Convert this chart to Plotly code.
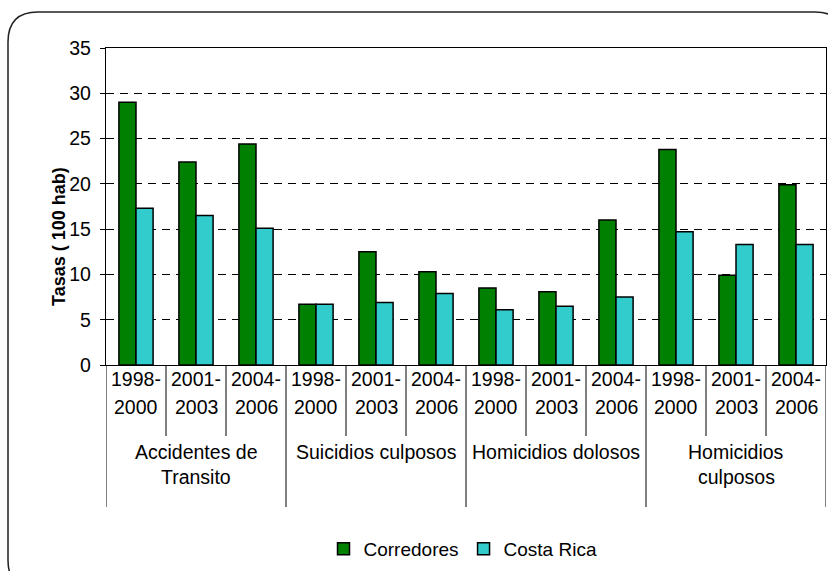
import plotly.graph_objects as go

# Data
periodos = ["1998-2000", "2001-2003", "2004-2006"]
causas = [["Accidentes de", "Transito"], ["Suicidios culposos"],
          ["Homicidios dolosos"], ["Homicidios", "culposos"]]
corredores = [29.0, 22.4, 24.4, 6.7, 12.5, 10.3, 8.5, 8.1, 16.0, 23.8, 9.9, 19.9]
costa_rica = [17.3, 16.5, 15.1, 6.7, 6.9, 7.9, 6.1, 6.5, 7.5, 14.7, 13.3, 13.3]
y_ticks = [0, 5, 10, 15, 20, 25, 30, 35]

FONT = "Liberation Sans, Arial, sans-serif"
W, H = 828, 571
L, R, T, B = 106, 2, 48, 206
PW, PH = W - L - R, H - T - B


def py(pix):
    """Pixel row -> paper y."""
    return (H - B - pix) / PH


def px(pix):
    """Pixel column -> paper x."""
    return (pix - L) / PW


n = len(corredores)
xs = list(range(n))

fig = go.Figure()
fig.add_bar(x=xs, y=corredores, name="Corredores",
            marker=dict(color="#008000", line=dict(color="black", width=1.5)))
fig.add_bar(x=xs, y=costa_rica, name="Costa Rica",
            marker=dict(color="#33CCCC", line=dict(color="black", width=1.5)))

shapes = []
annotations = []
lab_font = dict(size=19.5, family=FONT, color="black")

# inner separators and period labels
for i in range(n + 1):
    b = i - 0.5
    outer = (i % 3 == 0)
    shapes.append(dict(type="line", xref="x", yref="paper", x0=b, x1=b,
                       y0=0, y1=py(507 if outer else 436),
                       line=dict(color="black", width=1)))
for i in range(n):
    p1, p2 = periodos[i % 3].split("-")
    annotations.append(dict(x=i, y=py(392), xref="x", yref="paper",
                            text=p1 + "-", showarrow=False, font=lab_font))
    annotations.append(dict(x=i, y=py(420), xref="x", yref="paper",
                            text=p2, showarrow=False, font=lab_font))

# group labels
for g, lines in enumerate(causas):
    cx = g * 3 + 1
    for k, line in enumerate(lines):
        annotations.append(dict(x=cx, y=py(465 + 25 * k), xref="x", yref="paper",
                                text=line, showarrow=False, font=lab_font))

# axis title
annotations.append(dict(x=px(47), y=py(237), xref="paper", yref="paper",
                        text="<b>Tasas ( 100 hab)</b>", textangle=-90,
                        showarrow=False,
                        font=dict(size=18, family=FONT, color="black")))

# rounded frame around the chart
x0, x1 = px(8), px(845)
y0, y1 = py(12), py(590)
rx, ry = 30 / PW, 30 / PH
path = (f"M {x0 + rx} {y0} L {x1 - rx} {y0} Q {x1} {y0} {x1} {y0 - ry} "
        f"L {x1} {y1 + ry} Q {x1} {y1} {x1 - rx} {y1} "
        f"L {x0 + rx} {y1} Q {x0} {y1} {x0} {y1 + ry} "
        f"L {x0} {y0 - ry} Q {x0} {y0} {x0 + rx} {y0} Z")
shapes.append(dict(type="path", xref="paper", yref="paper", path=path,
                   line=dict(color="#222222", width=1.5)))

fig.update_layout(
    width=W, height=H,
    margin=dict(l=L, r=R, t=T, b=B),
    paper_bgcolor="white", plot_bgcolor="white",
    barmode="group", bargap=0.43, bargroupgap=0,
    showlegend=True,
    legend=dict(orientation="h", x=px(463), xanchor="center",
                y=py(549), yanchor="middle",
                font=dict(size=19, family=FONT, color="black"),
                itemwidth=30, tracegroupgap=0),
    shapes=shapes,
    annotations=annotations,
    font=dict(family=FONT, color="black"),
)
fig.update_xaxes(range=[-0.5, n - 0.5], showticklabels=False, ticks="",
                 showgrid=False, zeroline=False,
                 showline=True, linecolor="black", linewidth=1.3, mirror=True)
fig.update_yaxes(range=[0, 35], tickvals=y_ticks, ticks="outside", ticklen=5,
                 tickcolor="black", tickwidth=1,
                 tickfont=dict(size=19.5, family=FONT, color="black"),
                 ticklabelstandoff=5,
                 showgrid=True, gridcolor="black", gridwidth=1, griddash="8px,6px",
                 zeroline=False,
                 showline=True, linecolor="black", linewidth=1.3, mirror=True)

fig.write_html("out.html")
